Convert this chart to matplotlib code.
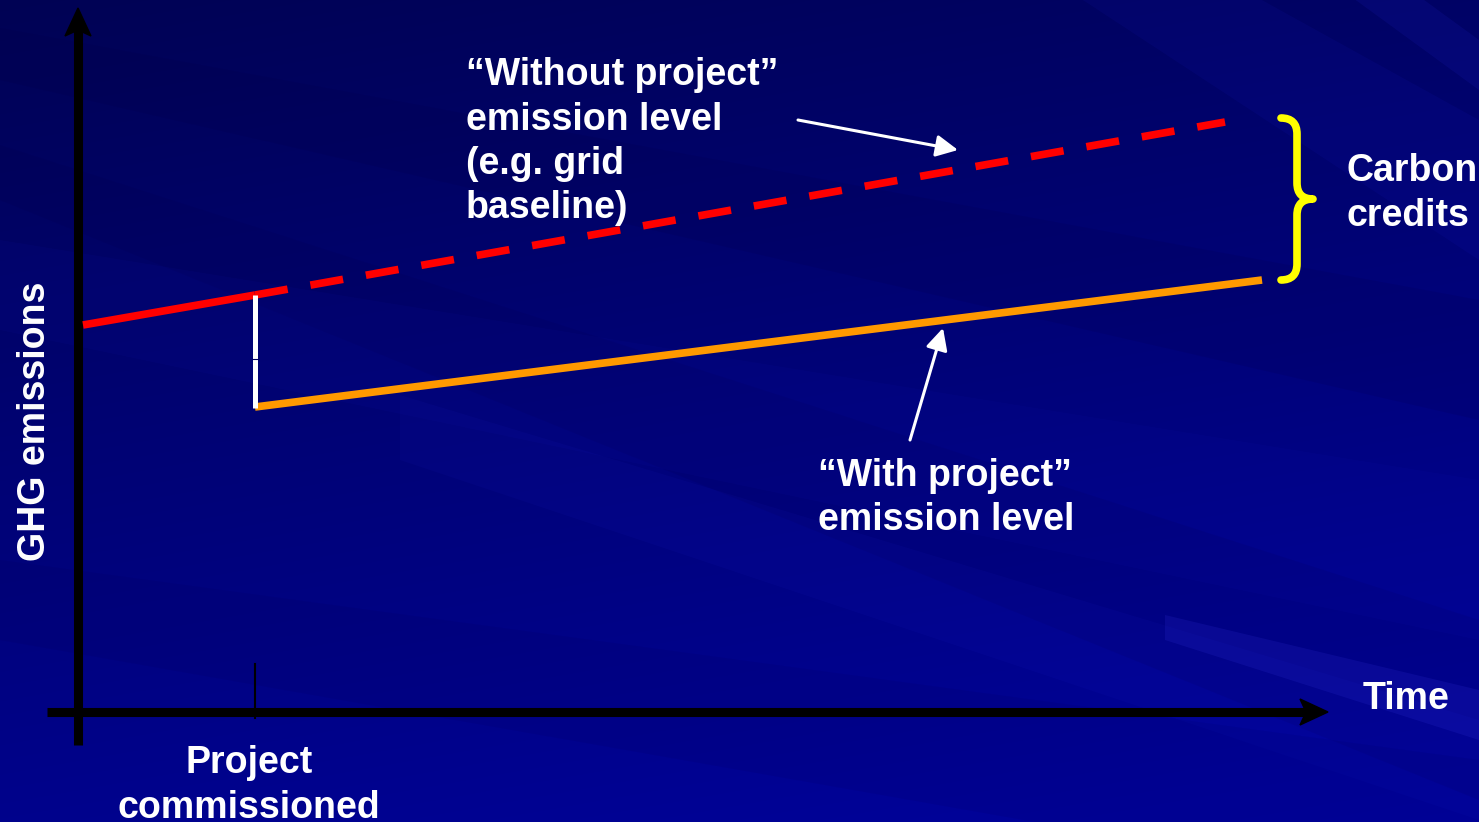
import numpy as np
import matplotlib.pyplot as plt
from matplotlib.patches import Polygon, PathPatch
from matplotlib.path import Path

plt.rcParams['font.family'] = ['Liberation Sans', 'DejaVu Sans']

# 图面尺寸（像素坐标，y 向上）
W, H = 1479, 822

# 基准线（无项目排放）：实线段 + 虚线段
baseline_time = [83, 255, 1225]
baseline_level = [497, 527, 700]
# 项目排放线
project_time = [255, 1262]
project_level = [415, 542]
# 项目投运时刻
commission_time = 255

# 文字
without_lines = ['\u201cWithout project\u201d', 'emission level', '(e.g. grid', 'baseline)']
with_lines = ['\u201cWith project\u201d', 'emission level']
credit_lines = ['Carbon', 'credits']
commission_lines = ['Project', 'commissioned']

fig = plt.figure(figsize=(W / 100, H / 100), dpi=100)
ax = fig.add_axes([0, 0, 1, 1])
ax.set_xlim(0, W)
ax.set_ylim(0, H)
ax.axis('off')

# ---------- 背景：深蓝渐变 + 斜向光带 ----------
yy, xx = np.mgrid[0:H, 0:W]   # 行 0 为画面顶部
b = 0.33 + 0.22 * (yy / H) + 0.07 * (xx / W)
bg = np.dstack([np.zeros_like(b), np.zeros_like(b) + 0.01, b])
ax.imshow(bg, extent=[0, W, 0, H], origin='upper', zorder=0, aspect='auto')
ax.set_xlim(0, W)
ax.set_ylim(0, H)

def band(x0, x1, top0, top1, bot0, bot1, color, alpha):
    # 坐标以屏幕像素给出（y 向下）
    pts = [(x0, H - top0), (x1, H - top1), (x1, H - bot1), (x0, H - bot0)]
    ax.add_patch(Polygon(pts, closed=True, facecolor=color, edgecolor='none',
                         alpha=alpha, zorder=0.5))

band(0, W, 28, 300, 80, 420, '#000040', 0.12)
band(0, W, 145, 620, 200, 800, '#000040', 0.10)
band(0, W, 240, 480, 330, 640, '#2020d0', 0.06)
band(400, W, 395, 720, 460, 820, '#2020d0', 0.08)
band(0, W, 560, 760, 640, 900, '#000040', 0.08)
band(1165, W, 615, 690, 640, 740, '#4040f0', 0.14)
band(900, W, -200, 120, -120, 260, '#2020e0', 0.08)
band(1150, W, -200, 40, -150, 90, '#3030f0', 0.10)

# ---------- 坐标轴箭头 ----------
ax_color = 'black'
ax.plot([78, 78], [77, 798], color=ax_color, lw=6.5, solid_capstyle='butt', zorder=3)
ax.add_patch(Polygon([(78, 814), (65, 786), (78, 792), (91, 786)],
                     closed=True, color=ax_color, zorder=3))
ax.plot([47, 1310], [110, 110], color=ax_color, lw=6.5, solid_capstyle='butt', zorder=3)
ax.add_patch(Polygon([(1328, 110), (1300, 123), (1306, 110), (1300, 97)],
                     closed=True, color=ax_color, zorder=3))
# 投运时刻刻度
ax.plot([commission_time, commission_time], [104, 158], color=ax_color, lw=1.5, zorder=3)

# ---------- 排放线 ----------
ax.plot(baseline_time[:2], baseline_level[:2], color='#ff0000', lw=5.5,
        solid_capstyle='butt', zorder=4)
ax.plot(baseline_time[1:], baseline_level[1:], color='#ff0000', lw=5.5,
        dashes=(4.34, 3.03), dash_capstyle='butt', zorder=4)
ax.plot(project_time, project_level, color='#ff9900', lw=5.5,
        solid_capstyle='butt', zorder=4)
# 投运时的排放骤降
ax.plot([commission_time, commission_time], [baseline_level[1], project_level[0] - 1],
        color='white', lw=3.6, solid_capstyle='butt', zorder=5)
ax.plot([commission_time - 3, commission_time + 3], [463, 463], color='#000060', lw=0.8, zorder=6)

# ---------- 花括号（减排量） ----------
top, bot = baseline_level[2] + 4, project_level[1]
mid = (top + bot) / 2
x0, x1, x2, r = 1281, 1297, 1313, 16
verts = [(x0, top), (x1, top), (x1, top - r),
         (x1, mid + r), (x1, mid), (x2, mid),
         (x1, mid), (x1, mid - r),
         (x1, bot + r), (x1, bot), (x0, bot)]
codes = [Path.MOVETO, Path.CURVE3, Path.CURVE3,
         Path.LINETO, Path.CURVE3, Path.CURVE3,
         Path.CURVE3, Path.CURVE3,
         Path.LINETO, Path.CURVE3, Path.CURVE3]
ax.add_patch(PathPatch(Path(verts, codes), facecolor='none', edgecolor='#ffff00',
                       lw=5.5, capstyle='round', joinstyle='round', zorder=4))

# ---------- 指示箭头 ----------
arrow_kw = dict(arrowstyle='-|>,head_length=0.6,head_width=0.3', color='white',
                lw=2.2, mutation_scale=22, shrinkA=0, shrinkB=0)
ax.annotate('', xy=(958, 672), xytext=(798, 702), arrowprops=arrow_kw, zorder=5)
ax.annotate('', xy=(943, 494), xytext=(910, 382), arrowprops=arrow_kw, zorder=5)

# ---------- 文字 ----------
txt = dict(color='white', fontsize=27, fontweight='bold', zorder=6)

def block(lines, x, first_baseline, step, ha='left'):
    for i, s in enumerate(lines):
        ax.text(x, H - (first_baseline + i * step), s, ha=ha, va='baseline', **txt)

block(without_lines, 466, 85, 44.5)
block(with_lines, 818, 486, 44.5)
block(credit_lines, 1347, 181, 45)
block(commission_lines, 249, 773, 45, ha='center')
ax.text(1363, H - 709, 'Time', ha='left', va='baseline', **txt)
ax.text(35, H - 421, 'GHG emissions', rotation=90, ha='center', va='center', **txt)

fig.savefig('out.png', dpi=100)
